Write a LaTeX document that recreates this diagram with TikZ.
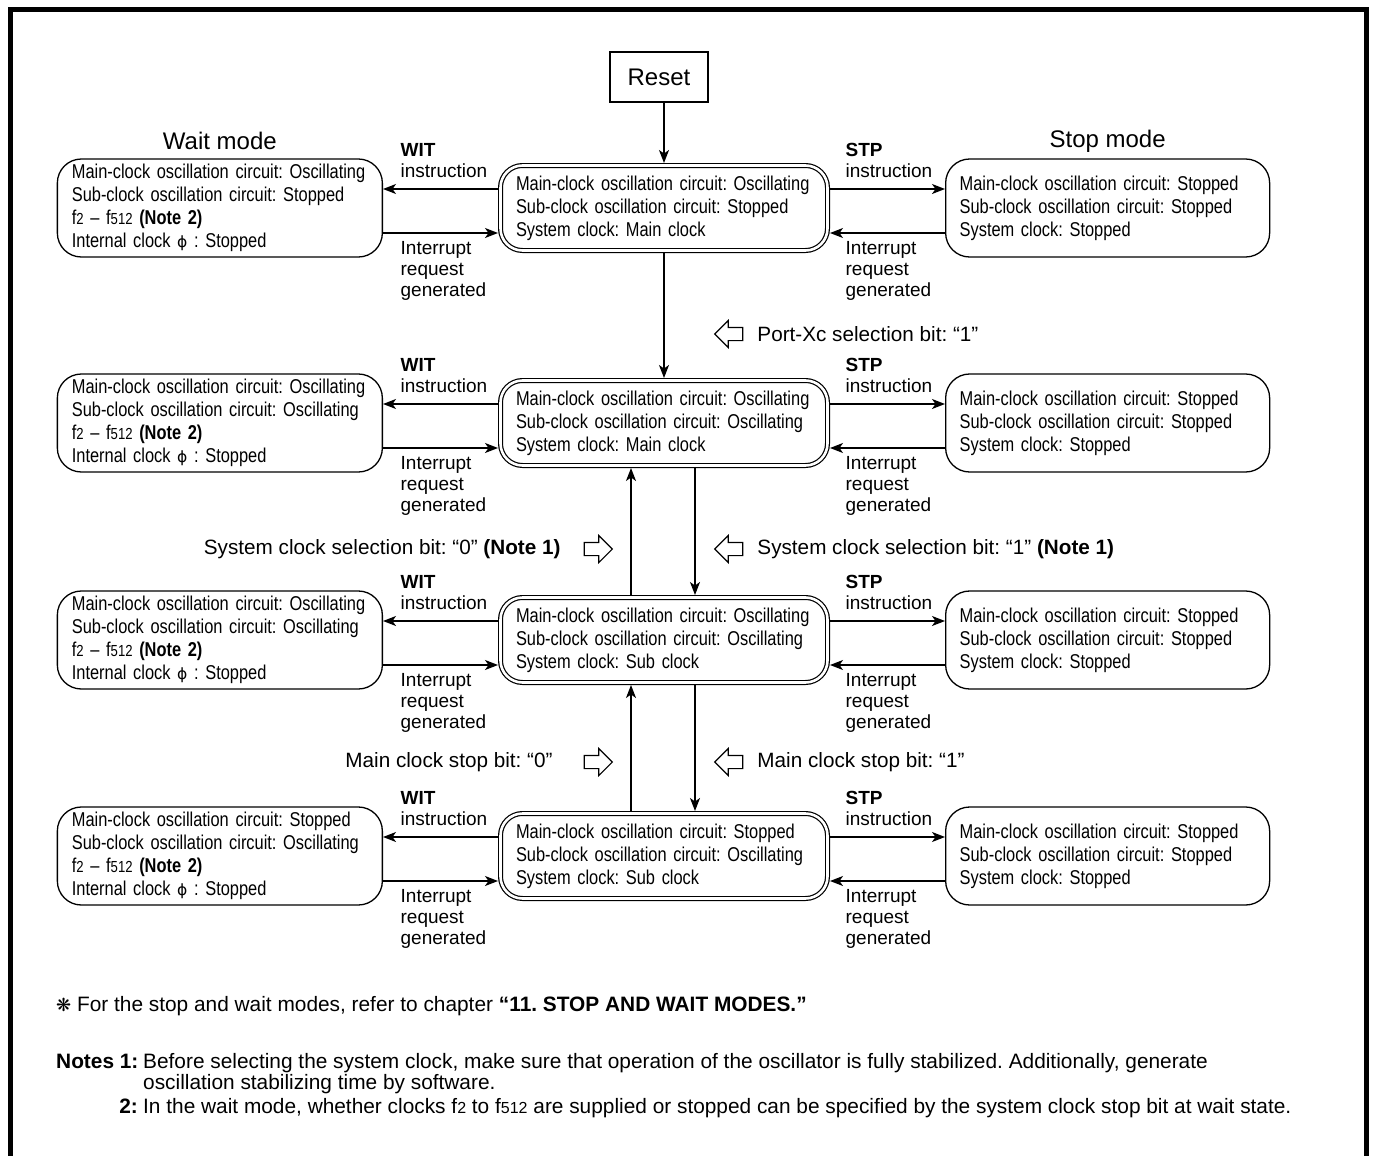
\documentclass[tikz,border=0pt]{standalone}
\usepackage{fontspec}
\setmainfont{Liberation Sans}
\newfontfamily\narrowfont[FakeStretch=0.82]{Liberation Sans}
\newfontfamily\symfont{DejaVu Sans}
\usepackage{tikz}
\usetikzlibrary{arrows.meta,positioning,shapes.arrows}
\newcommand{\dg}[1]{{\fontsize{16}{16}\selectfont #1}}
\newcommand{\phisym}{{\symfont\fontsize{15.5}{15.5}\selectfont ϕ}}
\frenchspacing
\hyphenpenalty=10000
\tikzset{
  mode box/.style={draw,line width=1.3pt,rounded corners=24pt,align=left,text width=296pt,inner xsep=14.5pt,minimum height=98pt,font=\narrowfont\fontsize{20}{23}\selectfont},
  stop box/.style={mode box,text width=296pt,inner xsep=14pt},
  state box/.style={draw,double,double distance=2.6pt,line width=1.2pt,rounded corners=22pt,align=left,text width=296pt,inner xsep=15.5pt,minimum height=85pt,outer sep=2.5pt,font=\narrowfont\fontsize{20}{23}\selectfont},
  reset box/.style={draw,line width=1.2pt,minimum width=98pt,minimum height=50pt,font=\fontsize{24}{26}\selectfont},
  trans arrow/.style={-{Stealth[length=13pt,width=10pt,inset=3.5pt]},line width=1.3pt},
  hollow arrow/.style={draw,single arrow,line width=1.1pt,inner sep=6pt,minimum height=28pt,single arrow head extend=7pt},
  edge label/.style={inner sep=0pt,align=left,font=\fontsize{19}{21}\selectfont},
  bit label/.style={inner sep=0pt,font=\fontsize{20.7}{22}\selectfont},
  mode title/.style={inner sep=0pt,text depth=0pt,font=\fontsize{24}{26}\selectfont},
  note text/.style={inner sep=0pt,font=\fontsize{20.85}{22}\selectfont}
}
\begin{document}
\begin{tikzpicture}[x=1pt,y=-1pt,node distance=115pt]
  \useasboundingbox (0,0) rectangle (1373,1156);
  \draw[line width=5pt] (10,1156) -- (10,10) -- (1366.5,10) -- (1366.5,1156);

  % centre column
  \node[reset box] (reset) at (659,77) {Reset};
  \node[state box] (mainclk) at (664,208) {Main-clock oscillation circuit: Oscillating\\Sub-clock oscillation circuit: Stopped\\System clock: Main clock};
  \node[state box] (bothosc) at (664,423) {Main-clock oscillation circuit: Oscillating\\Sub-clock oscillation circuit: Oscillating\\System clock: Main clock};
  \node[state box] (subclk) at (664,640) {Main-clock oscillation circuit: Oscillating\\Sub-clock oscillation circuit: Oscillating\\System clock: Sub clock};
  \node[state box] (subonly) at (664,856) {Main-clock oscillation circuit: Stopped\\Sub-clock oscillation circuit: Oscillating\\System clock: Sub clock};

  % wait mode column
  \node[mode box,left=of mainclk] (wait1) {Main-clock oscillation circuit: Oscillating\\Sub-clock oscillation circuit: Stopped\\f\dg{2} – f\dg{512} \textbf{(Note 2)}\\Internal clock \phisym\ : Stopped};
  \node[mode box,left=of bothosc] (wait2) {Main-clock oscillation circuit: Oscillating\\Sub-clock oscillation circuit: Oscillating\\f\dg{2} – f\dg{512} \textbf{(Note 2)}\\Internal clock \phisym\ : Stopped};
  \node[mode box,left=of subclk] (wait3) {Main-clock oscillation circuit: Oscillating\\Sub-clock oscillation circuit: Oscillating\\f\dg{2} – f\dg{512} \textbf{(Note 2)}\\Internal clock \phisym\ : Stopped};
  \node[mode box,left=of subonly] (wait4) {Main-clock oscillation circuit: Stopped\\Sub-clock oscillation circuit: Oscillating\\f\dg{2} – f\dg{512} \textbf{(Note 2)}\\Internal clock \phisym\ : Stopped};

  % stop mode column
  \node[stop box,right=of mainclk] (stop1) {Main-clock oscillation circuit: Stopped\\Sub-clock oscillation circuit: Stopped\\System clock: Stopped};
  \node[stop box,right=of bothosc] (stop2) {Main-clock oscillation circuit: Stopped\\Sub-clock oscillation circuit: Stopped\\System clock: Stopped};
  \node[stop box,right=of subclk] (stop3) {Main-clock oscillation circuit: Stopped\\Sub-clock oscillation circuit: Stopped\\System clock: Stopped};
  \node[stop box,right=of subonly] (stop4) {Main-clock oscillation circuit: Stopped\\Sub-clock oscillation circuit: Stopped\\System clock: Stopped};

  \node[mode title,above=9pt of wait1] (waittitle) {Wait mode};
  \node[mode title,above=11pt of stop1] (stoptitle) {Stop mode};

  % vertical transitions
  \draw[trans arrow] (reset.south -| mainclk.north) -- (mainclk.north);
  \draw[trans arrow] (mainclk) -- (bothosc);
  \draw[trans arrow] ([xshift=-33pt]subclk.north) -- ([xshift=-33pt]bothosc.south);
  \draw[trans arrow] ([xshift=31pt]bothosc.south) -- ([xshift=31pt]subclk.north);
  \draw[trans arrow] ([xshift=-33pt]subonly.north) -- ([xshift=-33pt]subclk.south);
  \draw[trans arrow] ([xshift=31pt]subclk.south) -- ([xshift=31pt]subonly.north);

  \node[hollow arrow,shape border rotate=180] (portbit) at (732,334) {};
  \node[bit label,right=14pt of portbit] (porttext) {Port-Xc selection bit: “1”};
  \node[hollow arrow] (selzero) at (595,549) {};
  \node[bit label,left=23pt of selzero] (selzerotext) {System clock selection bit: “0” \textbf{(Note 1)}};
  \node[hollow arrow,shape border rotate=180] (selone) at (732,549) {};
  \node[bit label,right=14pt of selone] (selonetext) {System clock selection bit: “1” \textbf{(Note 1)}};
  \node[hollow arrow] (mstopzero) at (595,762) {};
  \node[bit label,left=31pt of mstopzero] (mstopzerotext) {Main clock stop bit: “0”};
  \node[hollow arrow,shape border rotate=180] (mstopone) at (732,762) {};
  \node[bit label,right=14pt of mstopone] (mstoponetext) {Main clock stop bit: “1”};

  % wait transitions
  \draw[trans arrow] ([yshift=19pt]mainclk.west) -- ([yshift=19pt]mainclk.west -| wait1.east) node[edge label,anchor=south west,xshift=17pt,yshift=11pt] {\textbf{WIT}\\instruction};
  \draw[trans arrow] ([yshift=-25pt]mainclk.west -| wait1.east) node[edge label,anchor=north west,xshift=17pt,yshift=-8pt] {Interrupt\\request\\generated} -- ([yshift=-25pt]mainclk.west);
  \draw[trans arrow] ([yshift=19pt]bothosc.west) -- ([yshift=19pt]bothosc.west -| wait2.east) node[edge label,anchor=south west,xshift=17pt,yshift=11pt] {\textbf{WIT}\\instruction};
  \draw[trans arrow] ([yshift=-25pt]bothosc.west -| wait2.east) node[edge label,anchor=north west,xshift=17pt,yshift=-8pt] {Interrupt\\request\\generated} -- ([yshift=-25pt]bothosc.west);
  \draw[trans arrow] ([yshift=19pt]subclk.west) -- ([yshift=19pt]subclk.west -| wait3.east) node[edge label,anchor=south west,xshift=17pt,yshift=11pt] {\textbf{WIT}\\instruction};
  \draw[trans arrow] ([yshift=-25pt]subclk.west -| wait3.east) node[edge label,anchor=north west,xshift=17pt,yshift=-8pt] {Interrupt\\request\\generated} -- ([yshift=-25pt]subclk.west);
  \draw[trans arrow] ([yshift=19pt]subonly.west) -- ([yshift=19pt]subonly.west -| wait4.east) node[edge label,anchor=south west,xshift=17pt,yshift=11pt] {\textbf{WIT}\\instruction};
  \draw[trans arrow] ([yshift=-25pt]subonly.west -| wait4.east) node[edge label,anchor=north west,xshift=17pt,yshift=-8pt] {Interrupt\\request\\generated} -- ([yshift=-25pt]subonly.west);

  % stop transitions
  \draw[trans arrow] ([yshift=19pt]mainclk.east) node[edge label,anchor=south west,xshift=15pt,yshift=11pt] {\textbf{STP}\\instruction} -- ([yshift=19pt]mainclk.east -| stop1.west);
  \draw[trans arrow] ([yshift=-25pt]mainclk.east -| stop1.west) -- ([yshift=-25pt]mainclk.east) node[edge label,anchor=north west,xshift=15pt,yshift=-8pt] {Interrupt\\request\\generated};
  \draw[trans arrow] ([yshift=19pt]bothosc.east) node[edge label,anchor=south west,xshift=15pt,yshift=11pt] {\textbf{STP}\\instruction} -- ([yshift=19pt]bothosc.east -| stop2.west);
  \draw[trans arrow] ([yshift=-25pt]bothosc.east -| stop2.west) -- ([yshift=-25pt]bothosc.east) node[edge label,anchor=north west,xshift=15pt,yshift=-8pt] {Interrupt\\request\\generated};
  \draw[trans arrow] ([yshift=19pt]subclk.east) node[edge label,anchor=south west,xshift=15pt,yshift=11pt] {\textbf{STP}\\instruction} -- ([yshift=19pt]subclk.east -| stop3.west);
  \draw[trans arrow] ([yshift=-25pt]subclk.east -| stop3.west) -- ([yshift=-25pt]subclk.east) node[edge label,anchor=north west,xshift=15pt,yshift=-8pt] {Interrupt\\request\\generated};
  \draw[trans arrow] ([yshift=19pt]subonly.east) node[edge label,anchor=south west,xshift=15pt,yshift=11pt] {\textbf{STP}\\instruction} -- ([yshift=19pt]subonly.east -| stop4.west);
  \draw[trans arrow] ([yshift=-25pt]subonly.east -| stop4.west) -- ([yshift=-25pt]subonly.east) node[edge label,anchor=north west,xshift=15pt,yshift=-8pt] {Interrupt\\request\\generated};

  % notes
  \node[note text,anchor=base west] (remark) at (56,1011) {{\symfont\fontsize{18}{18}\selectfont ❋}~For the stop and wait modes, refer to chapter \textbf{“11. STOP AND WAIT MODES.”}};
  \node[note text,anchor=base west] (noteshead) at (56,1068) {\textbf{Notes 1:}};
  \node[note text,anchor=base west] (noteone) at (143,1068) {Before selecting the system clock, make sure that operation of the oscillator is fully stabilized. Additionally, generate};
  \node[note text,anchor=base west] (noteonecont) at (143,1089) {oscillation stabilizing time by software.};
  \node[note text,anchor=base east] (notetwohead) at (138,1113) {\textbf{2:}};
  \node[note text,anchor=base west] (notetwo) at (143,1113) {In the wait mode, whether clocks f\dg{2} to f\dg{512} are supplied or stopped can be specified by the system clock stop bit at wait state.};
\end{tikzpicture}
\end{document}
